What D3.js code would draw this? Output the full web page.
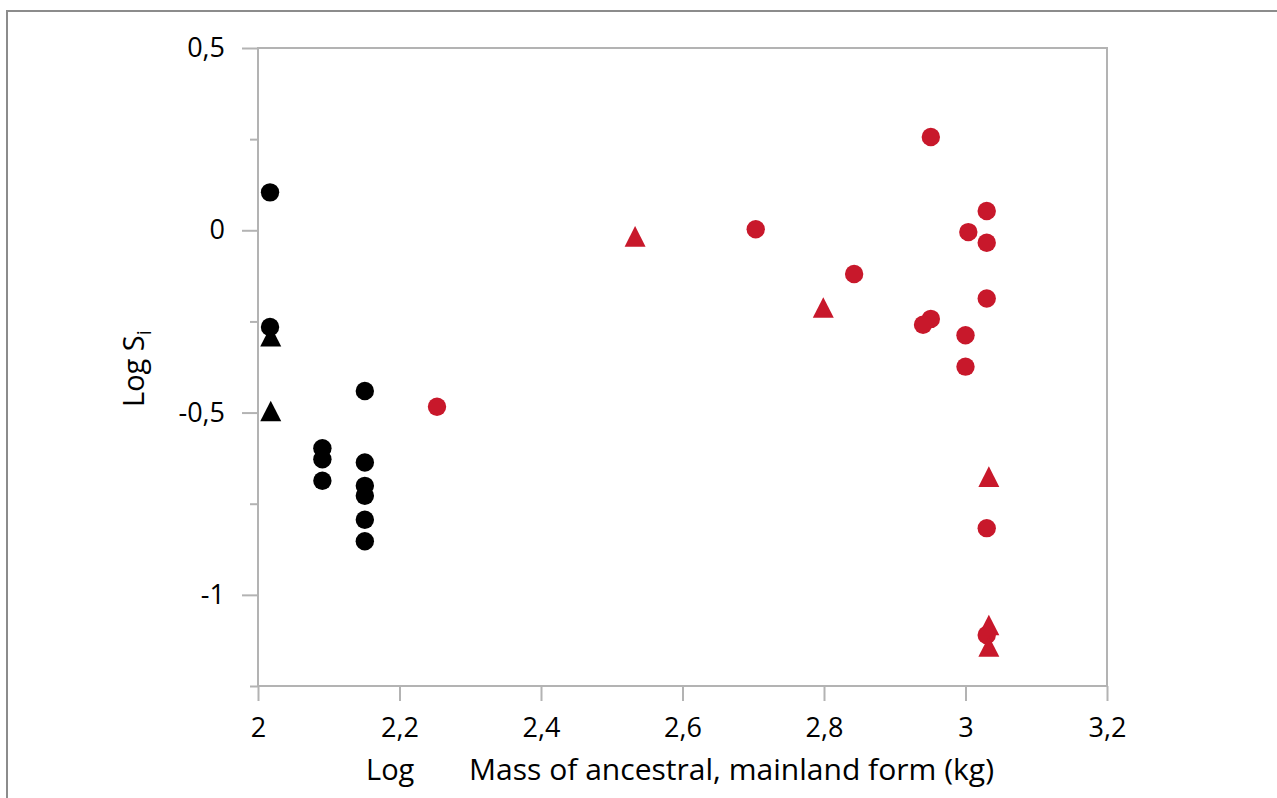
<!DOCTYPE html>
<html>
<head>
<meta charset="utf-8">
<script src="https://cdn.jsdelivr.net/npm/d3@7"></script>
<style>
  html, body { margin: 0; padding: 0; background: #fff; }
  svg { display: block; font-family: "Open Sans", "Noto Sans", sans-serif; }
</style>
</head>
<body>
<svg id="chart" width="1277" height="798"></svg>
<script>
// values: [log mass, log Si]
const blackCircles = [
  [2.017, 0.104], [2.017, -0.265],
  [2.091, -0.598], [2.091, -0.628], [2.091, -0.687],
  [2.151, -0.441], [2.151, -0.637], [2.151, -0.701], [2.151, -0.728],
  [2.151, -0.794], [2.151, -0.853]
];
const blackTriangles = [[2.018, -0.30], [2.018, -0.505]];
const redCircles = [
  [2.253, -0.484], [2.7035, 0.003], [2.8426, -0.12], [2.951, 0.256],
  [3.03, 0.053], [3.004, -0.005], [3.03, -0.034], [3.03, -0.187],
  [2.951, -0.243], [2.94, -0.259], [3.0, -0.288], [3.0, -0.374],
  [3.03, -0.817], [3.03, -1.11]
];
const redTriangles = [
  [2.533, -0.026], [2.799, -0.221], [3.033, -0.685], [3.033, -1.092], [3.033, -1.151]
];

const xTicks = [2, 2.2, 2.4, 2.6, 2.8, 3, 3.2];
const xTickLabels = ["2", "2,2", "2,4", "2,6", "2,8", "3", "3,2"];
const yTicks = [0.5, 0, -0.5, -1];
const yTickLabels = ["0,5", "0", "-0,5", "-1"];
const yMinorTicks = [0.25, -0.25, -0.75, -1.25];

(function () {
  const svg = d3.select("#chart");
  const plotLeft = 258, plotRight = 1107, plotTop = 48, plotBottom = 686;
  const x = d3.scaleLinear().domain([2, 3.2]).range([plotLeft, plotRight]);
  const y = d3.scaleLinear().domain([-1.25, 0.5]).range([plotBottom, plotTop]);

  const axisColor = "#b3b3b3";
  const red = "#c8182b";
  const font = "'Open Sans', 'Noto Sans', sans-serif";

  // outer frame (runs off the right and bottom edges)
  svg.append("rect")
    .attr("x", 7).attr("y", 11)
    .attr("width", 1400).attr("height", 900)
    .attr("fill", "none").attr("stroke", "#8c8c8c").attr("stroke-width", 2);

  // plot box
  svg.append("rect")
    .attr("x", plotLeft).attr("y", plotTop)
    .attr("width", plotRight - plotLeft).attr("height", plotBottom - plotTop)
    .attr("fill", "none").attr("stroke", axisColor).attr("stroke-width", 2);

  function styleAxis(g) {
    g.select(".domain").remove();
    g.selectAll(".tick line").attr("stroke", axisColor).attr("stroke-width", 2);
    g.selectAll(".tick text").attr("fill", "#000").attr("font-size", 27)
      .attr("font-family", font);
  }

  svg.append("g")
    .attr("transform", `translate(0,${plotBottom})`)
    .call(d3.axisBottom(x).tickValues(xTicks).tickSize(15).tickPadding(17)
      .tickFormat((d, i) => xTickLabels[i]))
    .call(styleAxis);

  svg.append("g")
    .attr("transform", `translate(${plotLeft},0)`)
    .call(d3.axisLeft(y).tickValues(yTicks).tickSize(16).tickPadding(17)
      .tickFormat((d, i) => yTickLabels[i]))
    .call(styleAxis);

  svg.append("g")
    .attr("transform", `translate(${plotLeft},0)`)
    .call(d3.axisLeft(y).tickValues(yMinorTicks).tickSize(8).tickFormat(""))
    .call(styleAxis);

  // axis titles
  svg.append("text")
    .attr("x", 366).attr("y", 780)
    .attr("font-size", 29).text("Log");
  svg.append("text")
    .attr("x", 469).attr("y", 780)
    .attr("font-size", 29)
    .attr("textLength", 525).attr("lengthAdjust", "spacingAndGlyphs")
    .text("Mass of ancestral, mainland form (kg)");

  const yTitle = svg.append("text")
    .attr("transform", "translate(144,407) rotate(-90)")
    .attr("font-size", 29);
  yTitle.append("tspan").text("Log S");
  yTitle.append("tspan").attr("font-size", 20).attr("dy", 7).text("i");

  // markers
  const tri = "M0,-13.7L10.5,6.9L-10.5,6.9Z";
  const marks = svg.append("g");

  function circles(data, color) {
    marks.append("g").selectAll("circle")
      .data(data).join("circle")
      .attr("cx", d => x(d[0])).attr("cy", d => y(d[1]))
      .attr("r", 9.2).attr("fill", color);
  }
  function triangles(data, color) {
    marks.append("g").selectAll("path")
      .data(data).join("path")
      .attr("transform", d => `translate(${x(d[0])},${y(d[1])})`)
      .attr("d", tri).attr("fill", color);
  }

  triangles(blackTriangles, "#000");
  circles(blackCircles, "#000");
  circles(redCircles, red);
  triangles(redTriangles, red);
})();
</script>
</body>
</html>
